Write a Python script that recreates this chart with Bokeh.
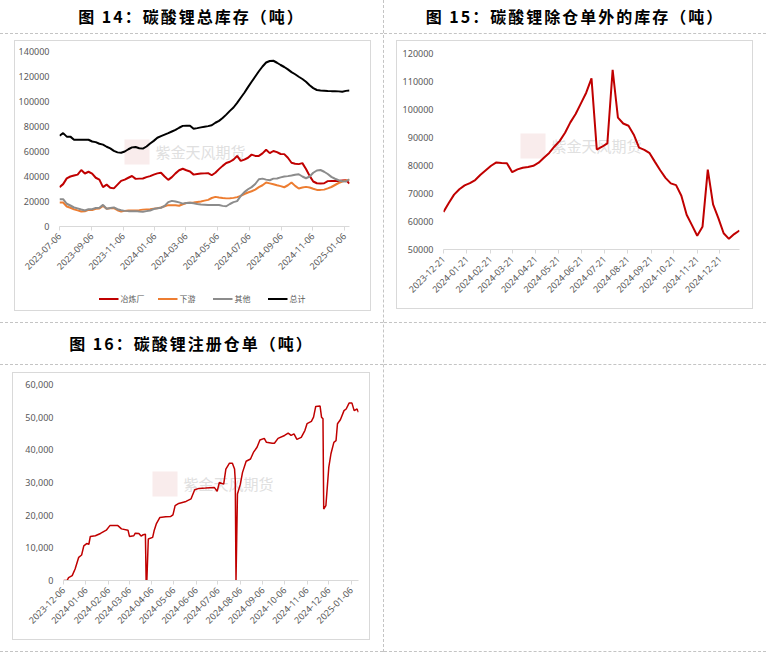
import math
import pandas as pd
from bokeh.plotting import figure
from bokeh.models import (Div, FixedTicker, DatetimeTickFormatter, NumeralTickFormatter,
                          Legend, LegendItem, Range1d, SingleIntervalTicker, Label, BoxAnnotation)
from bokeh.layouts import row, column
from bokeh.embed import file_html
from bokeh.resources import INLINE

# ---------------- Figure 14: total lithium carbonate inventory (weekly) ----------------
inv_start = "2023-07-06"
inv_smelter = [31500, 33900, 38500, 40000, 40800, 41500, 45200, 42400, 43800, 42300,
               39000, 37500, 31500, 33500, 31000, 30500, 33500, 36500, 37500, 39000,
               40400, 38100, 38300, 38400, 39500, 40300, 41500, 42500, 43000, 40000,
               37300, 39500, 42500, 45000, 46200, 45000, 44000, 41500, 42000, 42400,
               42500, 42700, 41000, 43000, 45900, 48500, 50800, 51800, 53500, 56500,
               52500, 53500, 55000, 57500, 56500, 56500, 58500, 61400, 58700, 60400,
               59500, 58000, 57900, 55000, 51000, 50200, 49900, 50700, 46000, 40500,
               36000, 34600, 34400, 34600, 36300, 36500, 36500, 36500, 36800, 37000, 34400]
inv_downstream = [19200, 19200, 16000, 15000, 13700, 12900, 12000, 12200, 13300, 13100,
                  14200, 14400, 16500, 14200, 14500, 14700, 13000, 12000, 12500, 12800,
                  12800, 12900, 13100, 13500, 13700, 13900, 14300, 14600, 15200, 16200,
                  17100, 17100, 17000, 16600, 17800, 18800, 19000, 19200, 19600, 20000,
                  20700, 21300, 22800, 23700, 23200, 22800, 22500, 22600, 22900, 23500,
                  24500, 26000, 27200, 28200, 29500, 31500, 33000, 35200, 34500, 33800,
                  33000, 32300, 31400, 33000, 35200, 32500, 30400, 31200, 31700, 31200,
                  30200, 29300, 29300, 29500, 30500, 31600, 33200, 34800, 36000, 36800, 37300]
inv_others = [21900, 21900, 18200, 16800, 15200, 14500, 13600, 12800, 13900, 13900,
              14800, 15000, 17300, 14200, 14800, 15300, 13800, 13000, 12500, 12300,
              12300, 12300, 12000, 11800, 12300, 12800, 14000, 14600, 15000, 16500,
              19500, 20500, 20000, 19300, 18300, 18800, 19000, 18600, 18000, 17600,
              17400, 17200, 17200, 17300, 17200, 16500, 16200, 18000, 19500, 20300,
              24500, 27500, 29800, 31500, 34000, 37800, 38300, 37500, 37000, 38300,
              38400, 39300, 40000, 40300, 40800, 41400, 41800, 40000, 38600, 40000,
              43000, 44800, 45200, 43800, 42000, 39700, 38200, 37000, 36200, 36000, 37800]
inv_total = [72600, 74700, 71900, 71900, 69400, 69400, 69400, 69400, 69400, 68000,
             67500, 66200, 65500, 63800, 62500, 60500, 59300, 59000, 60000, 61800,
             63300, 63600, 62600, 62300, 64000, 66400, 68500, 71000, 72300, 73500,
             74700, 76000, 77300, 79000, 80500, 80600, 80600, 78200, 78700, 79300,
             79800, 80300, 81000, 83000, 84500, 86800, 89500, 92500, 95200, 98900,
             103000, 107000, 111500, 115800, 120000, 124200, 128000, 131200, 132400, 132600,
             131000, 129200, 127600, 125700, 123500, 121800, 119800, 118000, 115800, 113000,
             110700, 109200, 108800, 108600, 108400, 108300, 108300, 108100, 107800, 108500, 108800]
inv_series_names = ["冶炼厂", "下游", "其他", "总计"]
inv_tick_labels = ["2023-07-06", "2023-09-06", "2023-11-06", "2024-01-06", "2024-03-06",
                   "2024-05-06", "2024-07-06", "2024-09-06", "2024-11-06", "2025-01-06"]

# ---------------- Figure 15: inventory excluding warehouse receipts (weekly) ----------------
ex_start = "2023-12-21"
ex_values = [63400, 66600, 69600, 71500, 72900, 73700, 74800, 76700, 78300, 79900,
             81100, 80900, 80800, 77600, 78600, 79200, 79500, 79900, 81000, 82800,
             84500, 86800, 88800, 91700, 95400, 98400, 102200, 106000, 111100, 85700,
             86700, 87900, 114200, 97100, 95000, 94200, 91000, 86400, 85600, 84400,
             81300, 78300, 75600, 73600, 73000, 69200, 62400, 58700, 54900, 58100,
             78500, 66100, 61200, 55800, 53800, 55500, 56800]
ex_tick_labels = ["2023-12-21", "2024-01-21", "2024-02-21", "2024-03-21", "2024-04-21",
                  "2024-05-21", "2024-06-21", "2024-07-21", "2024-08-21", "2024-09-21",
                  "2024-10-21", "2024-11-21", "2024-12-21"]

# ---------------- Figure 16: registered warehouse receipts (daily) ----------------
reg_dates = ["2023-12-06", "2023-12-11", "2023-12-13", "2023-12-18", "2023-12-22", "2023-12-27",
             "2023-12-31", "2024-01-03", "2024-01-07", "2024-01-10", "2024-01-12", "2024-01-19",
             "2024-01-26", "2024-02-03", "2024-02-08", "2024-02-19", "2024-02-24", "2024-03-04",
             "2024-03-06", "2024-03-12", "2024-03-14", "2024-03-19", "2024-03-22", "2024-03-25",
             "2024-03-28", "2024-03-29", "2024-03-30", "2024-04-01", "2024-04-07", "2024-04-09",
             "2024-04-12", "2024-04-17", "2024-04-25", "2024-05-02", "2024-05-05", "2024-05-08",
             "2024-05-13", "2024-05-23", "2024-05-30", "2024-06-04", "2024-06-10", "2024-06-19",
             "2024-07-01", "2024-07-05", "2024-07-08", "2024-07-14", "2024-07-17", "2024-07-22",
             "2024-07-26", "2024-07-29", "2024-07-30", "2024-07-31", "2024-08-01", "2024-08-02",
             "2024-08-06", "2024-08-09", "2024-08-14", "2024-08-20", "2024-08-24", "2024-08-29",
             "2024-09-02", "2024-09-08", "2024-09-11", "2024-09-19", "2024-09-22", "2024-09-27",
             "2024-10-06", "2024-10-11", "2024-10-15", "2024-10-19", "2024-10-23", "2024-10-29",
             "2024-11-03", "2024-11-06", "2024-11-12", "2024-11-15", "2024-11-18", "2024-11-24",
             "2024-11-26", "2024-11-28", "2024-11-29", "2024-12-02", "2024-12-06", "2024-12-09",
             "2024-12-13", "2024-12-16", "2024-12-18", "2024-12-22", "2024-12-27", "2024-12-30",
             "2025-01-03", "2025-01-07", "2025-01-10", "2025-01-14", "2025-01-16"]
reg_values = [0, 0, 900, 1500, 3500, 7100,
              7800, 10600, 11300, 11100, 13500, 13700,
              14400, 15400, 16800, 16800, 15800, 15400,
              13500, 13700, 14500, 14400, 13600, 14000,
              14200, 0, 0, 12700, 13200, 15200,
              17300, 19300, 19500, 19600, 20100, 22900,
              23600, 24200, 25000, 27800, 28200, 28300,
              28500, 27300, 30000, 29500, 34100, 35900,
              35900, 34100, 30600, 0, 13200, 26500,
              29500, 33100, 36500, 37200, 39200, 40800,
              43000, 43500, 42300, 42000, 42000, 43500,
              44400, 45100, 44400, 44900, 43200, 43800,
              45900, 48000, 48700, 50000, 53300, 53400,
              50000, 49500, 21900, 22900, 34600, 38800,
              42300, 42800, 48000, 49200, 52000, 52500,
              54300, 54300, 52000, 52500, 51500]
reg_tick_labels = ["2023-12-06", "2024-01-06", "2024-02-06", "2024-03-06", "2024-04-06",
                   "2024-05-06", "2024-06-06", "2024-07-06", "2024-08-06", "2024-09-06",
                   "2024-10-06", "2024-11-06", "2024-12-06", "2025-01-06"]

titles = ["图 14：碳酸锂总库存（吨）", "图 15：碳酸锂除仓单外的库存（吨）", "图 16：碳酸锂注册仓单（吨）"]
watermark = "紫金天风期货"

RED = "#C00000"
ORANGE = "#ED7D31"
GRAY = "#8C8C8C"
BLACK = "#000000"
SERIES_COLORS = [RED, ORANGE, GRAY, BLACK]
DASH = "1px dashed #c4c4c4"
BOX = "1px solid #d9d9d9"
TICK_FONT = "Noto Sans"
LABEL_COLOR = "#595959"


def ms(labels):
    return [pd.Timestamp(s).timestamp() * 1000 for s in labels]


def date_fmt():
    f = "%Y-%m-%d"
    return DatetimeTickFormatter(days=f, months=f, years=f, hours=f, hourmin=f,
                                 minutes=f, minsec=f, seconds=f, milliseconds=f,
                                 microseconds=f)


def add_watermark(p, x, y):
    p.add_layout(BoxAnnotation(left=x - 31, right=x - 6, bottom=y - 13, top=y + 12,
                               left_units="screen", right_units="screen",
                               bottom_units="screen", top_units="screen",
                               fill_color="#f4dada", fill_alpha=0.5, line_color=None,
                               level="underlay"))
    p.add_layout(Label(x=x, y=y, x_units="screen", y_units="screen", text=watermark,
                       text_font="Noto Sans CJK SC", text_font_size="15px",
                       text_color="#e0e0e0", text_baseline="middle", text_align="left",
                       level="underlay"))


def base_fig(size, margin, xr, yr, tick_labels, y_interval, y_format, borders, outline=True):
    p = figure(width=size[0], height=size[1], margin=margin, x_axis_type="datetime",
               x_range=xr, y_range=yr, output_backend="svg", toolbar_location=None,
               min_border_left=borders[0], min_border_right=borders[1],
               min_border_top=borders[2], min_border_bottom=borders[3],
               styles={"outline": BOX} if outline else {})
    p.background_fill_color = "white"
    p.border_fill_color = "white"
    p.outline_line_color = None
    p.xgrid.visible = False
    p.ygrid.visible = False
    p.xaxis.ticker = FixedTicker(ticks=ms(tick_labels))
    p.xaxis.formatter = date_fmt()
    p.xaxis.major_label_orientation = math.pi / 4
    p.xaxis.axis_line_color = "#d9d9d9"
    p.xaxis.major_tick_line_color = "#d9d9d9"
    p.xaxis.major_tick_in = 0
    p.xaxis.major_tick_out = 4
    p.xaxis.minor_tick_line_color = None
    p.yaxis.ticker = SingleIntervalTicker(interval=y_interval)
    p.yaxis.formatter = NumeralTickFormatter(format=y_format)
    p.yaxis.axis_line_color = None
    p.yaxis.major_tick_line_color = None
    p.yaxis.minor_tick_line_color = None
    for ax in (p.xaxis[0], p.yaxis[0]):
        ax.major_label_text_font = TICK_FONT
        ax.major_label_text_font_size = "9px"
        ax.major_label_text_color = LABEL_COLOR
        ax.major_label_standoff = 4
    return p


# ---- Figure 14 ----
inv_dates = pd.date_range(inv_start, periods=len(inv_total), freq="7D")
inv_series = [inv_smelter, inv_downstream, inv_others, inv_total]
f14 = base_fig((355, 245), 0,
               Range1d(inv_dates[0], inv_dates[-1]), Range1d(0, 140000),
               inv_tick_labels, 20000, "0", (39, 21, 10, 60), outline=False)
add_watermark(f14, 96, 75)
for vals, col in zip(inv_series, SERIES_COLORS):
    f14.line(inv_dates, vals, line_color=col, line_width=2)

# legend strip under the chart: the same series drawn in a tiny plot whose view
# lies outside their range, so only the legend entries are visible
leg_fig = figure(width=355, height=24, margin=0, output_backend="svg", toolbar_location=None,
                 x_axis_type=None, y_axis_type=None, min_border=0,
                 x_range=Range1d(0, 1), y_range=Range1d(-2, -1))
leg_fig.outline_line_color = None
leg_fig.xgrid.visible = False
leg_fig.ygrid.visible = False
leg_renderers = [leg_fig.line(x=list(range(len(v))), y=v, line_color=c, line_width=2)
                 for v, c in zip(inv_series, SERIES_COLORS)]
legend = Legend(items=[LegendItem(label=n, renderers=[r]) for n, r in zip(inv_series_names, leg_renderers)],
                orientation="horizontal", location="center")
legend.label_text_font = "Noto Sans CJK SC"
legend.label_text_font_size = "8px"
legend.label_text_color = LABEL_COLOR
legend.border_line_color = None
legend.background_fill_alpha = 0
legend.glyph_width = 20
legend.glyph_height = 10
legend.spacing = 13
legend.padding = 2
legend.margin = 0
legend.label_standoff = 2
leg_fig.add_layout(legend)

box14 = column(f14, leg_fig, spacing=0, margin=(7, 13, 12, 15), styles={"outline": BOX})

# ---- Figure 15 ----
ex_dates = pd.date_range(ex_start, periods=len(ex_values), freq="7D")
f15 = base_fig((355, 267), (7, 14, 14, 13),
               Range1d(ex_dates[0], ex_dates[-1]), Range1d(50000, 120000),
               ex_tick_labels, 10000, "0", (46, 13, 12, 59))
add_watermark(f15, 108, 104)
f15.line(ex_dates, ex_values, line_color=RED, line_width=2)

# ---- Figure 16 ----
reg_dt = pd.to_datetime(reg_dates)
f16 = base_fig((356, 266), (8, 14, 12, 13),
               Range1d(reg_dt[0], reg_dt[-1]), Range1d(0, 60000),
               reg_tick_labels, 10000, "0,0", (50, 11, 11, 59))
add_watermark(f16, 120, 97)
f16.line(reg_dt, reg_values, line_color=RED, line_width=1.5)

# ---- page layout ----
title_style = {"text-align": "center", "font-family": "Noto Sans CJK SC", "font-weight": "bold",
               "font-size": "16px", "letter-spacing": "2px", "color": "#000000",
               "box-sizing": "border-box"}


def title_div(text, w, h, top_border):
    st = dict(title_style)
    st["border-bottom"] = DASH
    if top_border:
        st["border-top"] = DASH
    st["line-height"] = f"{h - 2}px"
    return Div(text=text, width=w, height=h, margin=0, styles=st)


t14 = title_div(titles[0], 383, 34, False)
t15 = title_div(titles[1], 382, 34, False)
t16 = title_div(titles[2], 383, 43, True)
t_empty = title_div("", 382, 43, True)
bottom_left = Div(text="", width=383, height=1, margin=0,
                  styles={"border-top": DASH, "box-sizing": "border-box"})
spacer_right = Div(text="", width=382, height=287, margin=0,
                   styles={"border-bottom": DASH, "box-sizing": "border-box"})
sep = Div(text="", width=1, height=652, margin=0,
          styles={"border-left": DASH, "box-sizing": "border-box"})

left = column(t14, box14, t16, f16, bottom_left, spacing=0, margin=0)
right = column(t15, f15, t_empty, spacer_right, spacing=0, margin=0)
page = row(left, sep, right, spacing=0, margin=0)

open("out.html", "w").write(file_html(page, INLINE))
